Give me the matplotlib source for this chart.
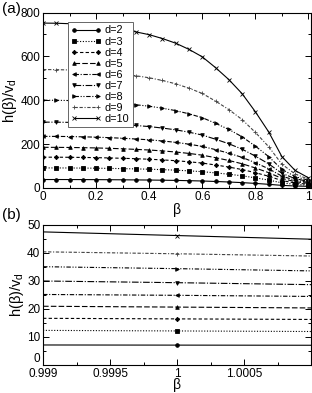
import matplotlib
matplotlib.use("Agg")
import matplotlib.pyplot as plt
from matplotlib import font_manager
from matplotlib.ticker import MultipleLocator, FixedLocator, FixedFormatter

names = {f.name for f in font_manager.fontManager.ttflist}
narrow = "Liberation Sans Narrow" if "Liberation Sans Narrow" in names else "Liberation Sans"
plt.rcParams["font.family"] = [narrow, "Liberation Sans", "DejaVu Sans"]
plt.rcParams["mathtext.fontset"] = "custom"
plt.rcParams["mathtext.rm"] = narrow

# panel (a): h(beta)/v_d against beta
beta = [0.0, 0.05, 0.1, 0.15, 0.2, 0.25, 0.3, 0.35, 0.4, 0.45, 0.5,
        0.55, 0.6, 0.65, 0.7, 0.75, 0.8, 0.85, 0.9, 0.95, 1.0]
dims = [2, 3, 4, 5, 6, 7, 8, 9, 10]
h_d2 = [38.0, 38.0, 37.9, 37.7, 37.5, 37.1, 36.7, 36.2, 35.7, 34.9, 34.0,
        32.7, 31.3, 29.1, 26.7, 23.9, 20.3, 16.2, 11.3, 8.5, 7.05]
h_d3 = [91.0, 90.9, 90.7, 90.2, 89.7, 88.8, 87.8, 86.5, 85.1, 83.1, 80.7,
        77.6, 73.8, 68.3, 62.2, 55.0, 45.8, 35.5, 22.9, 15.8, 12.1]
h_d4 = [140.0, 139.9, 139.5, 138.8, 137.9, 136.5, 134.9, 133.0, 130.7, 127.6, 123.9,
        119.0, 113.1, 104.4, 94.9, 83.6, 69.2, 53.1, 33.3, 22.2, 16.4]
h_d5 = [185.0, 184.8, 184.3, 183.4, 182.2, 180.4, 178.3, 175.6, 172.7, 168.6, 163.6,
        157.1, 149.2, 137.7, 125.0, 110.0, 90.8, 69.4, 43.1, 28.3, 20.6]
h_d6 = [235.0, 234.8, 234.2, 232.9, 231.4, 229.1, 226.4, 223.0, 219.2, 214.0, 207.7,
        199.3, 189.2, 174.5, 158.3, 139.1, 114.6, 87.2, 53.6, 34.7, 24.8]
h_d7 = [300.0, 299.7, 298.9, 297.3, 295.4, 292.4, 288.9, 284.6, 279.7, 272.9, 264.8,
        254.0, 241.0, 222.0, 201.2, 176.6, 144.9, 109.7, 66.4, 42.0, 29.3]
h_d8 = [400.0, 399.6, 398.5, 396.3, 393.8, 389.8, 385.0, 379.2, 372.6, 363.4, 352.5,
        337.8, 320.3, 294.7, 266.5, 233.2, 190.5, 142.9, 84.4, 51.5, 34.3]
h_d9 = [540.0, 539.5, 538.0, 535.0, 531.5, 526.0, 519.5, 511.5, 502.5, 490.0, 474.9,
        454.9, 430.9, 395.9, 357.4, 311.8, 253.3, 188.2, 108.2, 63.1, 39.6]
h_d10 = [752.0, 751.3, 749.2, 744.9, 740.0, 732.2, 723.1, 711.8, 699.1, 681.4, 660.2,
         632.0, 598.1, 548.7, 494.3, 430.1, 347.5, 255.8, 142.8, 79.3, 46.1]
curves = [h_d2, h_d3, h_d4, h_d5, h_d6, h_d7, h_d8, h_d9, h_d10]

# panel (b): zoom around beta = 1
beta_zoom = [0.999, 1.0, 1.001]
zoom_left = [7.1, 12.3, 16.6, 20.9, 25.1, 29.9, 35.0, 40.3, 47.4]
zoom_mid = [7.05, 12.1, 16.4, 20.6, 24.8, 29.3, 34.3, 39.6, 46.1]
zoom_right = [7.0, 11.9, 16.2, 20.3, 24.4, 28.6, 33.5, 38.8, 44.8]

markers = ["o", "s", "D", "^", "<", "v", ">", "+", "x"]
styles = ["-", (0, (1, 1.5)), (0, (3, 2)), (0, (5, 2)),
          (0, (4, 1.5, 1, 1.5)), (0, (6, 1.5, 1, 1.5)),
          (0, (4, 1.5, 1, 1.5, 1, 1.5)), (0, (3, 1.5, 3, 1.5, 1, 1.5)), "-"]
msizes = [2.6, 2.4, 2.2, 2.6, 2.6, 2.6, 2.6, 2.6, 2.2]
colors = ["black"] * 7 + ["#444444", "black"]

fig = plt.figure(figsize=(3.12, 3.93), dpi=100)
ax1 = fig.add_axes([0.138, 0.522, 0.859, 0.446])
ax2 = fig.add_axes([0.138, 0.0715, 0.859, 0.357])

for d, h, mk, ls, ms, c in zip(dims, curves, markers, styles, msizes, colors):
    ax1.plot(beta, h, color=c, lw=0.8, ls=ls, marker=mk, ms=ms,
             mew=0.6, label=f"d={d}")

for i in range(len(dims)):
    ax2.plot(beta_zoom, [zoom_left[i], zoom_mid[i], zoom_right[i]],
             color=colors[i], lw=0.8, ls=styles[i], marker=markers[i],
             ms=msizes[i], mew=0.6, markevery=[1])

ax1.set_xlim(0, 1.01)
ax1.set_ylim(0, 800)
ax1.xaxis.set_major_locator(MultipleLocator(0.2))
ax1.xaxis.set_minor_locator(MultipleLocator(0.1))
ax1.yaxis.set_major_locator(MultipleLocator(200))
ax1.yaxis.set_minor_locator(MultipleLocator(100))
ax1.xaxis.set_major_formatter(plt.FuncFormatter(lambda v, p: f"{v:g}"))

ax2.set_xlim(0.999, 1.001)
ax2.set_ylim(0, 50)
ax2.xaxis.set_major_locator(FixedLocator([0.999, 0.9995, 1.0, 1.0005]))
ax2.xaxis.set_major_formatter(FixedFormatter(["0.999", "0.9995", "1", "1.0005"]))
ax2.xaxis.set_minor_locator(FixedLocator([0.99925, 0.99975, 1.00025, 1.00075]))
ax2.yaxis.set_major_locator(FixedLocator([0, 10, 20, 30, 40, 50]))
ax2.yaxis.set_minor_locator(MultipleLocator(5))

for ax in (ax1, ax2):
    ax.tick_params(which="both", direction="in", top=True, right=True,
                   labelsize=8.5, width=0.7, pad=2)
    ax.tick_params(which="major", length=4)
    ax.tick_params(which="minor", length=2)
    for sp in ax.spines.values():
        sp.set_linewidth(0.8)
    ax.set_ylabel(r"$\mathregular{h(β)/v_d}$", fontsize=10.5, labelpad=1)
ax1.set_xlabel("β", fontsize=10, labelpad=0)
ax2.set_xlabel("β", fontsize=10, labelpad=-1)

# lowest y label of panel (b) sits on the axis line, clear of "0.999"
ax2.yaxis.get_major_ticks()[0].label1.set_verticalalignment("bottom")

leg = ax1.legend(loc="upper left", bbox_to_anchor=(0.093, 0.945), fontsize=7.8,
                 numpoints=2, handlelength=2.8, labelspacing=0.1,
                 handletextpad=0.3, borderpad=0.3, borderaxespad=0,
                 fancybox=False, framealpha=1)
leg.get_frame().set_edgecolor("#666666")
leg.get_frame().set_linewidth(0.7)

fig.text(0.005, 0.995, "(a)", fontsize=11, va="top", ha="left")
fig.text(0.005, 0.47, "(b)", fontsize=11, va="top", ha="left")

fig.savefig("out.png", dpi=100)
